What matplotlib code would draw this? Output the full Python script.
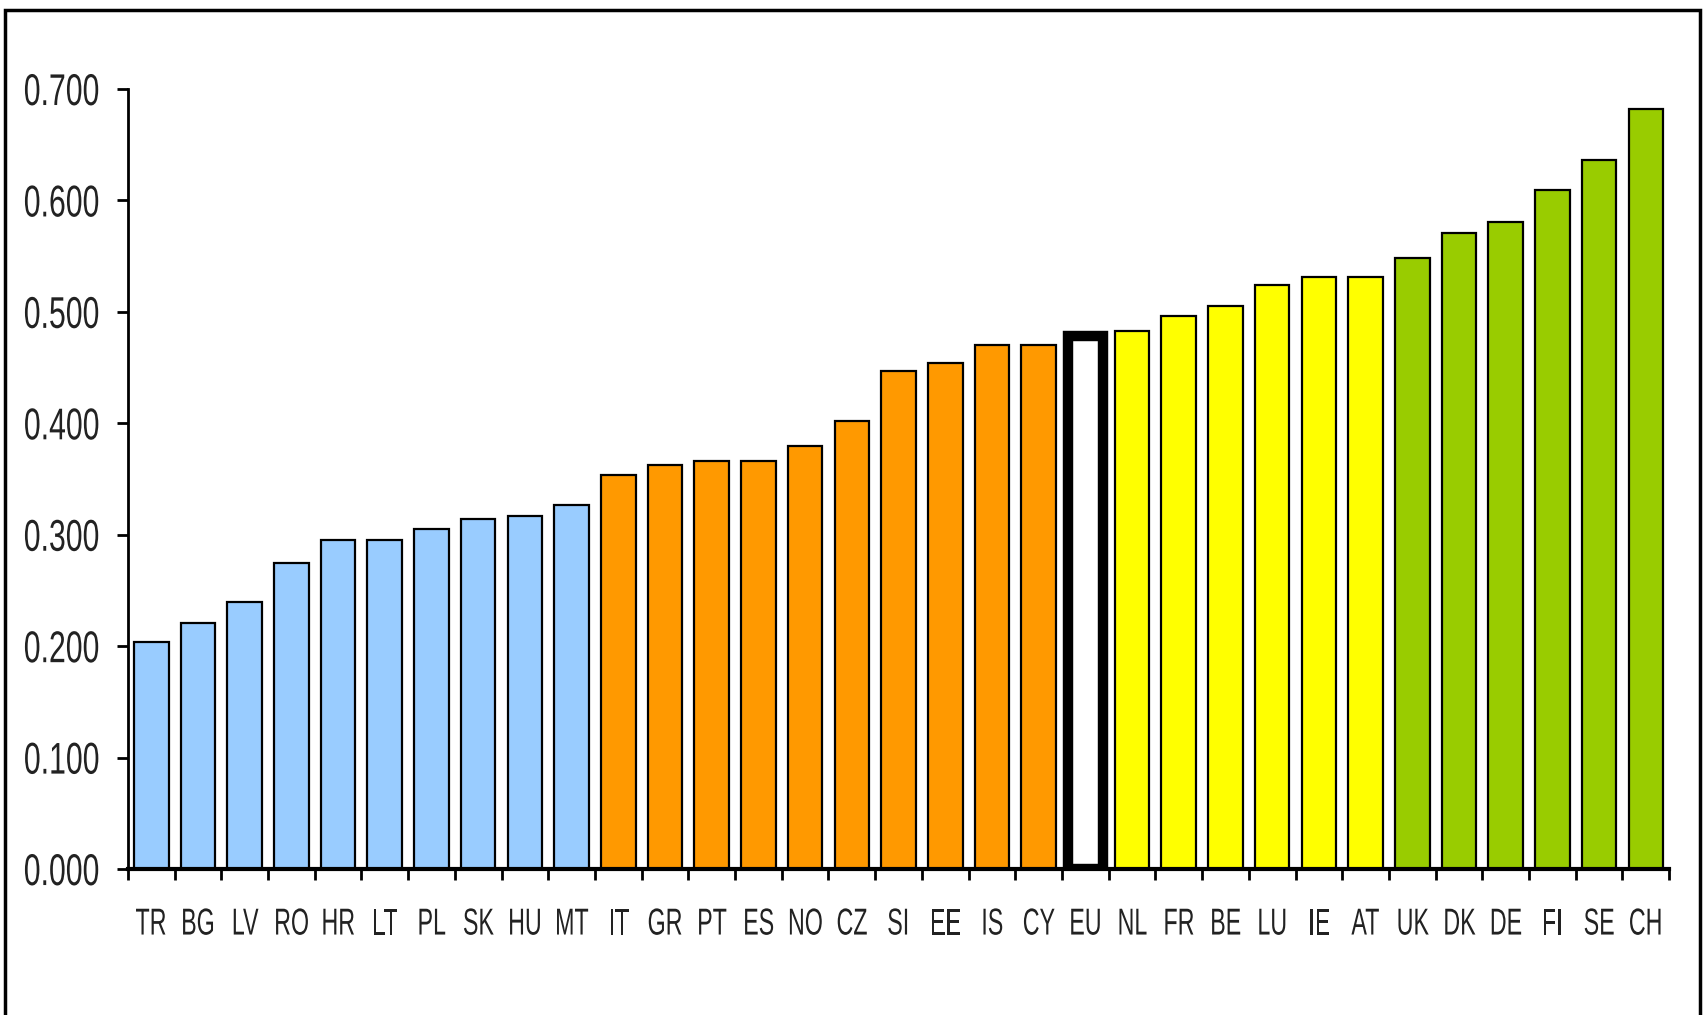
import matplotlib.pyplot as plt
from matplotlib.patches import Rectangle
from matplotlib.patheffects import AbstractPathEffect
from matplotlib.transforms import Affine2D
from matplotlib.ticker import FixedLocator, NullFormatter

countries = ['TR', 'BG', 'LV', 'RO', 'HR', 'LT', 'PL', 'SK', 'HU', 'MT',
             'IT', 'GR', 'PT', 'ES', 'NO', 'CZ', 'SI', 'EE', 'IS', 'CY',
             'EU', 'NL', 'FR', 'BE', 'LU', 'IE', 'AT',
             'UK', 'DK', 'DE', 'FI', 'SE', 'CH']
values = [0.204, 0.221, 0.240, 0.275, 0.295, 0.295, 0.305, 0.314, 0.317, 0.327,
          0.354, 0.363, 0.366, 0.366, 0.380, 0.402, 0.447, 0.454, 0.470, 0.470,
          0.478, 0.483, 0.496, 0.505, 0.524, 0.531, 0.531,
          0.548, 0.571, 0.581, 0.609, 0.636, 0.682]
groups = ['low'] * 10 + ['mid'] * 10 + ['eu'] + ['high'] * 6 + ['top'] * 6
group_colors = {'low': '#99ccff', 'mid': '#ff9900', 'eu': 'white',
                'high': '#ffff00', 'top': '#99cc00'}
yticks = [0.0, 0.1, 0.2, 0.3, 0.4, 0.5, 0.6, 0.7]


class Squeeze(AbstractPathEffect):
    """Narrow the text horizontally (the original uses a condensed face)."""
    def __init__(self, sx, anchor='center'):
        super().__init__()
        self.sx = sx
        self.anchor = anchor

    def draw_path(self, renderer, gc, tpath, affine, rgbFace=None):
        ext = tpath.get_extents(affine)
        x0 = ext.x1 if self.anchor == 'right' else (ext.x0 + ext.x1) / 2
        t = affine + Affine2D().translate(-x0, 0).scale(self.sx, 1).translate(x0, 0)
        renderer.draw_path(gc, tpath, t, rgbFace)


font = ['Liberation Sans', 'DejaVu Sans']

fig = plt.figure(figsize=(17.05, 10.15), dpi=100)
ax = fig.add_axes([0.075, 0.1438, 0.904, 0.7685])

x = range(len(countries))
colors = [group_colors[g] for g in groups]
ax.bar(x, values, width=0.74, color=colors, edgecolor='black', linewidth=1.6)

ax.set_xlim(-0.5, len(countries) - 0.5)
ax.set_ylim(0, 0.7)
ax.set_yticks(yticks)
ylabels = ax.set_yticklabels(['%.3f' % v for v in yticks], family=font,
                             fontsize=32, color='#222222')
for t in ylabels:
    t.set_path_effects([Squeeze(0.68, 'right')])

# ticks between categories, labels centred under bars
ax.xaxis.set_major_locator(FixedLocator([i - 0.5 for i in range(len(countries) + 1)]))
ax.xaxis.set_major_formatter(NullFormatter())
ax.xaxis.set_minor_locator(FixedLocator(list(x)))
xlabels = ax.set_xticklabels(countries, minor=True, family=font, fontsize=27,
                             color='#222222')
for t in xlabels:
    t.set_path_effects([Squeeze(0.62)])
ax.tick_params(axis='x', which='major', direction='out', length=8, width=2)
ax.tick_params(axis='x', which='minor', length=0, pad=27)
ax.tick_params(axis='y', direction='out', length=8, width=2, pad=12)

for s in ['top', 'right']:
    ax.spines[s].set_visible(False)
ax.spines['left'].set_linewidth(2)
ax.spines['bottom'].set_linewidth(3)

# EU bar drawn with a heavy outline
eu = groups.index('eu')
ax.patches[eu].set_linewidth(7.5)

# frame round the picture (bottom edge cut off)
fig.patches.append(Rectangle((0.003, -0.01), 0.994, 1.0, transform=fig.transFigure,
                             fill=False, edgecolor='black', linewidth=2.5))

fig.savefig('out.png', dpi=100)
